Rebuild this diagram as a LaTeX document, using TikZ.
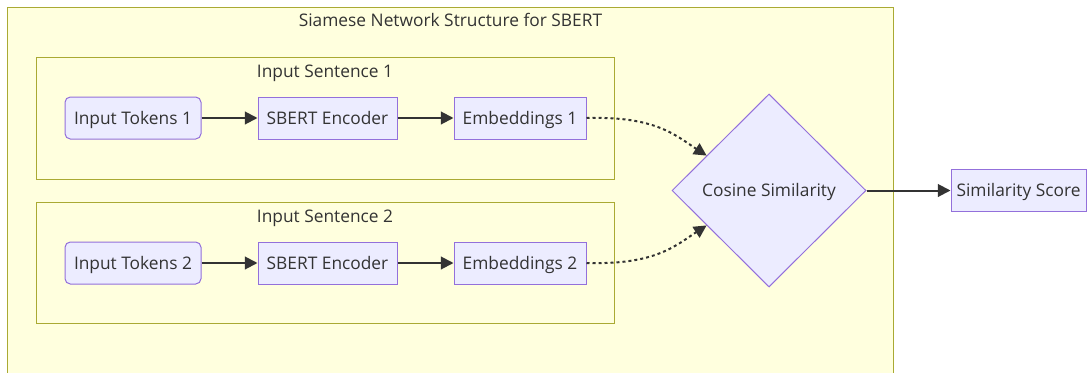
\documentclass[tikz,border=0pt]{standalone}
\usepackage{fontspec}
\setmainfont{Open Sans}
\usetikzlibrary{shapes.geometric,arrows.meta,calc}
\definecolor{clusterfill}{HTML}{FFFFDE}
\definecolor{clusterline}{HTML}{AAAA33}
\definecolor{nodefill}{HTML}{ECECFF}
\definecolor{nodeline}{HTML}{9370DB}
\definecolor{ink}{HTML}{333333}
\tikzset{
  labeltext/.style={text=ink, text height=11pt, text depth=2pt},
  cluster/.style={draw=clusterline, fill=clusterfill, line width=0.75pt},
  clustertitle/.style={labeltext, inner sep=0pt, anchor=center},
  box/.style={draw=nodeline, fill=nodefill, line width=0.75pt, labeltext,
    minimum height=31.5pt, inner sep=0pt},
  roundbox/.style={box, rounded corners=4pt},
  decision/.style={diamond, draw=nodeline, fill=nodefill, line width=0.75pt,
    labeltext, inner sep=0pt, minimum width=145.5pt, minimum height=144.75pt},
  flow/.style={draw=ink, line width=1.5pt, -{Triangle[length=9.5pt,width=9.5pt]}},
  dotflow/.style={flow, dash pattern=on 2.25pt off 2.25pt}
}
\begin{document}
\begin{tikzpicture}[x=0.75pt, y=-0.75pt, font=\fontsize{13}{15}\selectfont]
\useasboundingbox (0,0) rectangle (1089,372);
\clip (0,0) rectangle (1089,372);

% outer group
\draw[cluster] (7.5,7.5) rectangle (893.5,420);
\node[clustertitle] (title) at (450.5,20.5) {Siamese Network Structure for SBERT};

% sentence groups
\draw[cluster] (36,57) rectangle (614.5,179);
\node[clustertitle] (g1title) at (325,71.5) {Input Sentence 1};
\draw[cluster] (36,202) rectangle (614.5,323);
\node[clustertitle] (g2title) at (325,216.5) {Input Sentence 2};

% first branch
\node[roundbox, minimum width=102pt] (t1) at (133,118) {Input Tokens 1};
\node[box, minimum width=104.25pt] (s1) at (327.5,118) {SBERT Encoder};
\node[box, minimum width=99pt] (e1) at (520,118) {Embeddings 1};

% second branch
\node[roundbox, minimum width=102pt] (t2) at (133,263) {Input Tokens 2};
\node[box, minimum width=104.25pt] (s2) at (327.5,263) {SBERT Encoder};
\node[box, minimum width=99pt] (e2) at (520,263) {Embeddings 2};

% comparison and result
\node[decision] (cs) at (769,190.5) {Cosine Similarity};
\node[box, minimum width=101.25pt] (score) at (1018.5,190.5) {Similarity Score};

\coordinate (in1) at ($(cs.west)!0.36!(cs.north)$);
\coordinate (in2) at ($(cs.west)!0.36!(cs.south)$);

\draw[flow] (t1) -- (s1);
\draw[flow] (s1) -- (e1);
\draw[flow] (t2) -- (s2);
\draw[flow] (s2) -- (e2);
\draw[dotflow] (e1.east) .. controls (655,116) and (675,135) .. (in1);
\draw[dotflow] (e2.east) .. controls (655,265) and (675,246) .. (in2);
\draw[flow] (cs.east) -- (score.west);
\end{tikzpicture}
\end{document}
